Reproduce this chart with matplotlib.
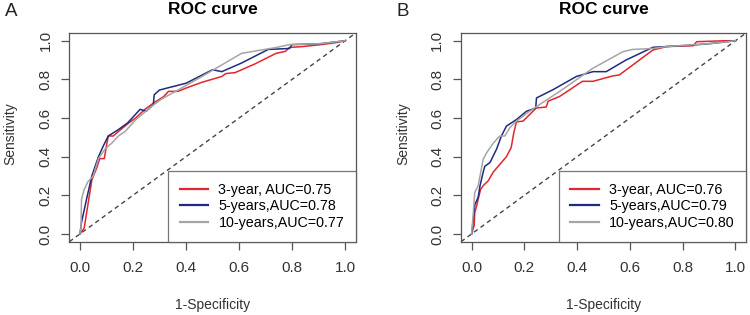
import matplotlib
matplotlib.use('Agg')
import matplotlib.pyplot as plt

plt.rcParams['font.family'] = ['Liberation Sans', 'DejaVu Sans']

# Panel A: ROC points (1-specificity, sensitivity)
a_fpr_3 = [0, .016, .03, .045, .063, .075, .092, .10, .107, .126, .145, .18, .21, .245, .28, .315, .334, .37, .40, .46, .535, .55, .585, .66, .74, .775, .79, .84, .91, .965, 1]
a_tpr_3 = [0, .03, .15, .28, .34, .39, .39, .455, .507, .507, .53, .57, .60, .645, .68, .71, .738, .738, .755, .785, .815, .83, .835, .88, .935, .945, .965, .97, .98, .99, 1]
a_fpr_5 = [0, .006, .025, .045, .07, .088, .107, .145, .18, .227, .25, .277, .28, .30, .40, .50, .535, .61, .71, .79, .80, .91, 1]
a_tpr_5 = [0, .06, .18, .30, .40, .455, .507, .54, .575, .645, .635, .67, .72, .745, .78, .85, .84, .885, .955, .96, .98, .985, 1]
a_fpr_10 = [0, .004, .006, .016, .03, .05, .07, .095, .12, .145, .17, .21, .27, .31, .37, .46, .535, .61, .675, .74, .79, .91, 1]
a_tpr_10 = [0, .03, .18, .23, .27, .30, .39, .44, .47, .507, .53, .59, .66, .70, .745, .815, .875, .935, .95, .965, .98, .985, 1]

# Panel B
b_fpr_3 = [0, .01, .012, .02, .025, .034, .044, .063, .082, .107, .132, .15, .16, .17, .195, .22, .245, .283, .29, .334, .42, .46, .535, .56, .62, .687, .74, .84, .853, .96, 1]
b_tpr_3 = [0, .045, .11, .15, .18, .23, .25, .275, .32, .36, .40, .447, .524, .58, .584, .618, .652, .657, .687, .712, .79, .79, .818, .823, .884, .952, .97, .974, .995, 1, 1]
b_fpr_5 = [0, .004, .012, .025, .032, .044, .05, .07, .095, .113, .132, .17, .208, .243, .246, .309, .397, .46, .51, .585, .687, .74, .84, .91, 1]
b_tpr_5 = [0, .045, .15, .19, .25, .32, .35, .37, .44, .507, .558, .592, .635, .652, .704, .747, .815, .84, .84, .90, .966, .97, .978, .986, 1]
b_fpr_10 = [0, .006, .012, .025, .044, .057, .082, .107, .126, .145, .17, .22, .258, .334, .46, .573, .61, .687, .74, .91, 1]
b_tpr_10 = [0, .10, .215, .25, .387, .42, .47, .507, .507, .55, .584, .635, .67, .738, .858, .943, .955, .96, .97, .986, 1]

labels_a = ['3-year, AUC=0.75', '5-years,AUC=0.78', '10-years,AUC=0.77']
labels_b = ['3-year, AUC=0.76', '5-years,AUC=0.79', '10-years,AUC=0.80']
ticks = [0.0, 0.2, 0.4, 0.6, 0.8, 1.0]

colors = ['#E3262D', '#1E2B7E', '#A5A5A5']
edge = '#555555'


def draw_roc(ax, curves, labels, letter, ylab_x):
    # diagonal reference line across the whole box, like abline(0, 1)
    ax.plot([-0.04, 1.04], [-0.04, 1.04], color='#444444', lw=1.0,
            dashes=(3.2, 2.6))
    for (fpr, tpr), color, label in zip(curves, colors, labels):
        ax.plot(fpr, tpr, color=color, lw=1.1, label=label)

    ax.set_xlim(-0.04, 1.04)
    ax.set_ylim(-0.04, 1.04)
    ax.set_xticks(ticks)
    ax.set_yticks(ticks)
    ax.set_xticklabels(['%.1f' % t for t in ticks])
    ax.set_yticklabels(['%.1f' % t for t in ticks], rotation=90, va='center')
    ax.tick_params(axis='both', length=6, width=0.9, color=edge,
                   labelsize=11, labelcolor='#333333')
    ax.tick_params(axis='x', pad=8)
    ax.tick_params(axis='y', pad=6)
    for spine in ax.spines.values():
        spine.set_color(edge)
        spine.set_linewidth(0.9)

    ax.set_title('ROC curve', fontsize=12.5, fontweight='bold', pad=14)
    ax.set_xlabel('1-Specificity', fontsize=10, color='#333333', va='center')
    ax.xaxis.set_label_coords(0.5, -0.305)
    ax.set_ylabel('Sensitivity', fontsize=10, color='#333333', va='center')
    ax.yaxis.set_label_coords(ylab_x, 0.52)

    leg = ax.legend(loc='lower right', bbox_to_anchor=(1, 0), borderaxespad=0,
                    fancybox=False, frameon=True, fontsize=10.3,
                    handlelength=2.0, handletextpad=0.7, borderpad=0.8,
                    labelspacing=0.2)
    leg.get_frame().set_edgecolor(edge)
    leg.get_frame().set_linewidth(0.9)
    for line in leg.get_lines():
        line.set_linewidth(1.6)

    ax.text(letter[1], 1.0 - 12 / 315, letter[0], transform=ax.figure.transFigure,
            fontsize=13.5, ha='center', va='center', color='#222222')


fig = plt.figure(figsize=(7.5, 3.15), dpi=100)
ax1 = fig.add_axes([0.0924, 0.2327, 0.3819, 0.6625])
ax2 = fig.add_axes([0.6147, 0.2327, 0.3800, 0.6625])

draw_roc(ax1, [(a_fpr_3, a_tpr_3), (a_fpr_5, a_tpr_5), (a_fpr_10, a_tpr_10)],
         labels_a, ('A', 11 / 750), -0.207)
draw_roc(ax2, [(b_fpr_3, b_tpr_3), (b_fpr_5, b_tpr_5), (b_fpr_10, b_tpr_10)],
         labels_b, ('B', 403 / 750), -0.2035)

fig.savefig('out.png', dpi=100)
